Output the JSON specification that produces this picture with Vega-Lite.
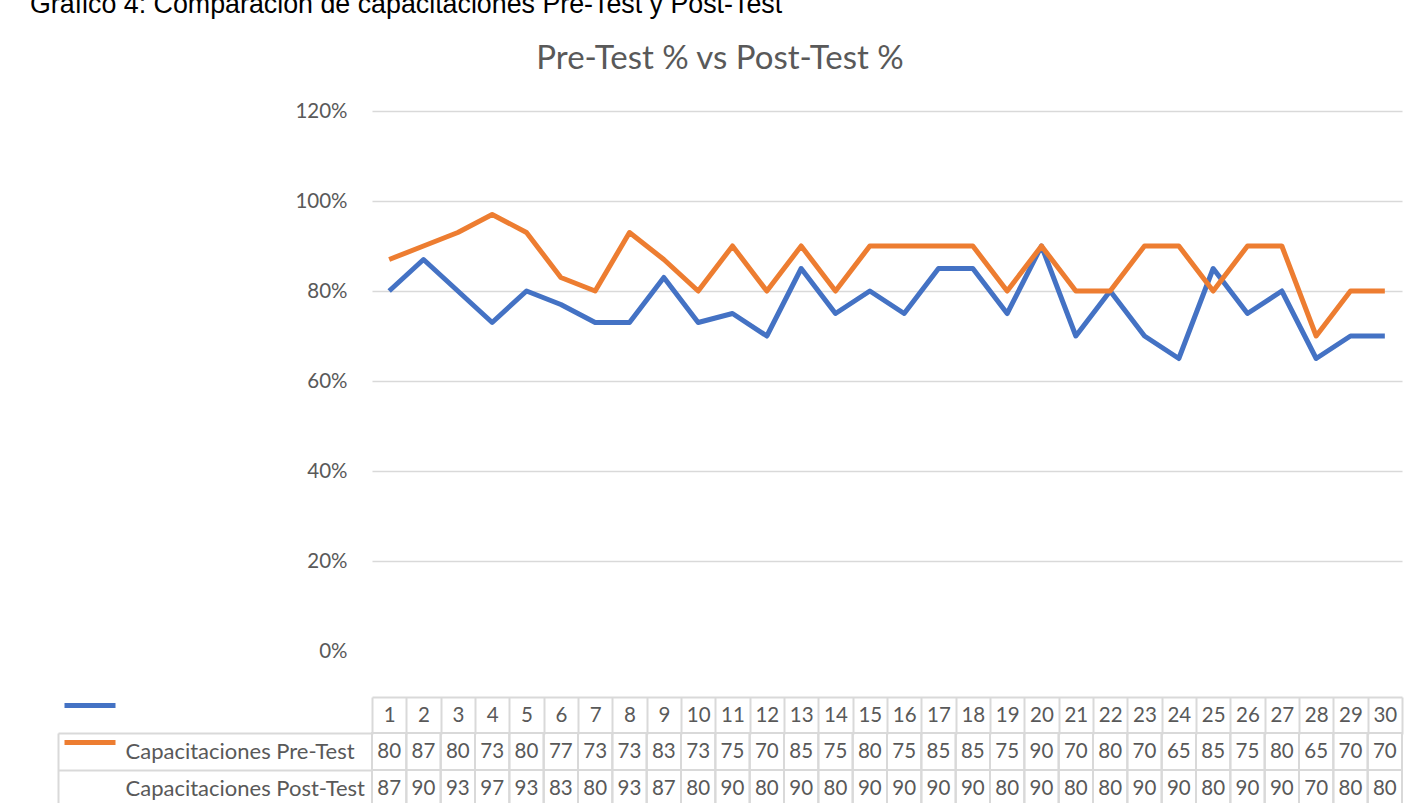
{
  "$schema": "https://vega.github.io/schema/vega-lite/v6.json",
  "background": "white",
  "padding": {"left": 30, "top": -8, "right": 16, "bottom": -5},
  "config": {"view": {"stroke": null}, "font": "Lato"},
  "title": {
    "text": "Gráfico 4: Comparación de capacitaciones Pre-Test y Post-Test",
    "anchor": "start",
    "font": "Liberation Sans",
    "fontSize": 26.8,
    "fontWeight": "normal",
    "color": "#000000",
    "dx": -27,
    "offset": 24
  },
  "datasets": {
    "scores": [
      {"index": 1, "series": "Capacitaciones Pre-Test", "value": 80},
      {"index": 2, "series": "Capacitaciones Pre-Test", "value": 87},
      {"index": 3, "series": "Capacitaciones Pre-Test", "value": 80},
      {"index": 4, "series": "Capacitaciones Pre-Test", "value": 73},
      {"index": 5, "series": "Capacitaciones Pre-Test", "value": 80},
      {"index": 6, "series": "Capacitaciones Pre-Test", "value": 77},
      {"index": 7, "series": "Capacitaciones Pre-Test", "value": 73},
      {"index": 8, "series": "Capacitaciones Pre-Test", "value": 73},
      {"index": 9, "series": "Capacitaciones Pre-Test", "value": 83},
      {"index": 10, "series": "Capacitaciones Pre-Test", "value": 73},
      {"index": 11, "series": "Capacitaciones Pre-Test", "value": 75},
      {"index": 12, "series": "Capacitaciones Pre-Test", "value": 70},
      {"index": 13, "series": "Capacitaciones Pre-Test", "value": 85},
      {"index": 14, "series": "Capacitaciones Pre-Test", "value": 75},
      {"index": 15, "series": "Capacitaciones Pre-Test", "value": 80},
      {"index": 16, "series": "Capacitaciones Pre-Test", "value": 75},
      {"index": 17, "series": "Capacitaciones Pre-Test", "value": 85},
      {"index": 18, "series": "Capacitaciones Pre-Test", "value": 85},
      {"index": 19, "series": "Capacitaciones Pre-Test", "value": 75},
      {"index": 20, "series": "Capacitaciones Pre-Test", "value": 90},
      {"index": 21, "series": "Capacitaciones Pre-Test", "value": 70},
      {"index": 22, "series": "Capacitaciones Pre-Test", "value": 80},
      {"index": 23, "series": "Capacitaciones Pre-Test", "value": 70},
      {"index": 24, "series": "Capacitaciones Pre-Test", "value": 65},
      {"index": 25, "series": "Capacitaciones Pre-Test", "value": 85},
      {"index": 26, "series": "Capacitaciones Pre-Test", "value": 75},
      {"index": 27, "series": "Capacitaciones Pre-Test", "value": 80},
      {"index": 28, "series": "Capacitaciones Pre-Test", "value": 65},
      {"index": 29, "series": "Capacitaciones Pre-Test", "value": 70},
      {"index": 30, "series": "Capacitaciones Pre-Test", "value": 70},
      {"index": 1, "series": "Capacitaciones Post-Test", "value": 87},
      {"index": 2, "series": "Capacitaciones Post-Test", "value": 90},
      {"index": 3, "series": "Capacitaciones Post-Test", "value": 93},
      {"index": 4, "series": "Capacitaciones Post-Test", "value": 97},
      {"index": 5, "series": "Capacitaciones Post-Test", "value": 93},
      {"index": 6, "series": "Capacitaciones Post-Test", "value": 83},
      {"index": 7, "series": "Capacitaciones Post-Test", "value": 80},
      {"index": 8, "series": "Capacitaciones Post-Test", "value": 93},
      {"index": 9, "series": "Capacitaciones Post-Test", "value": 87},
      {"index": 10, "series": "Capacitaciones Post-Test", "value": 80},
      {"index": 11, "series": "Capacitaciones Post-Test", "value": 90},
      {"index": 12, "series": "Capacitaciones Post-Test", "value": 80},
      {"index": 13, "series": "Capacitaciones Post-Test", "value": 90},
      {"index": 14, "series": "Capacitaciones Post-Test", "value": 80},
      {"index": 15, "series": "Capacitaciones Post-Test", "value": 90},
      {"index": 16, "series": "Capacitaciones Post-Test", "value": 90},
      {"index": 17, "series": "Capacitaciones Post-Test", "value": 90},
      {"index": 18, "series": "Capacitaciones Post-Test", "value": 90},
      {"index": 19, "series": "Capacitaciones Post-Test", "value": 80},
      {"index": 20, "series": "Capacitaciones Post-Test", "value": 90},
      {"index": 21, "series": "Capacitaciones Post-Test", "value": 80},
      {"index": 22, "series": "Capacitaciones Post-Test", "value": 80},
      {"index": 23, "series": "Capacitaciones Post-Test", "value": 90},
      {"index": 24, "series": "Capacitaciones Post-Test", "value": 90},
      {"index": 25, "series": "Capacitaciones Post-Test", "value": 80},
      {"index": 26, "series": "Capacitaciones Post-Test", "value": 90},
      {"index": 27, "series": "Capacitaciones Post-Test", "value": 90},
      {"index": 28, "series": "Capacitaciones Post-Test", "value": 70},
      {"index": 29, "series": "Capacitaciones Post-Test", "value": 80},
      {"index": 30, "series": "Capacitaciones Post-Test", "value": 80}
    ]
  },
  "bounds": "flush",
  "spacing": 82,
  "vconcat": [
    {
      "width": 1030,
      "height": 540,
      "data": {"name": "scores"},
      "title": {
        "text": "Pre-Test % vs Post-Test %",
        "font": "Lato",
        "fontSize": 33,
        "fontWeight": "normal",
        "color": "#595959",
        "anchor": "middle",
        "dx": -167,
        "offset": 25
      },
      "mark": {"type": "line", "strokeWidth": 5, "strokeJoin": "round"},
      "encoding": {
        "x": {
          "field": "index",
          "type": "ordinal",
          "bandPosition": 0.5,
          "scale": {"type": "band", "paddingInner": 0, "paddingOuter": 0},
          "axis": {
            "orient": "bottom",
            "offset": 46,
            "title": null,
            "labelAngle": 0,
            "labelFont": "Lato",
            "labelFontSize": 20.5,
            "labelColor": "#595959",
            "labelBaseline": "middle",
            "labelPadding": -19,
            "tickBand": "extent",
            "tickSize": 37,
            "tickColor": "#d9d9d9",
            "tickWidth": 2,
            "domainColor": "#d9d9d9",
            "domainWidth": 2,
            "grid": false
          }
        },
        "y": {
          "field": "value",
          "type": "quantitative",
          "scale": {"domain": [0, 120], "nice": false},
          "axis": {
            "values": [0, 20, 40, 60, 80, 100, 120],
            "labelExpr": "datum.value + '%'",
            "title": null,
            "ticks": false,
            "domain": false,
            "labelPadding": 25,
            "labelFont": "Lato",
            "labelFontSize": 20.5,
            "labelColor": "#595959",
            "gridColor": {"condition": {"test": "datum.value === 0", "value": "transparent"}, "value": "#d9d9d9"},
            "gridWidth": 1.5
          }
        },
        "color": {
          "field": "series",
          "type": "nominal",
          "scale": {"domain": ["Capacitaciones Pre-Test", "Capacitaciones Post-Test"], "range": ["#4472C4", "#ED7D31"]},
          "legend": null
        }
      }
    },
    {
      "width": 1030,
      "height": 74,
      "data": {"name": "scores"},
      "layer": [
        {
          "mark": {"type": "rect", "fillOpacity": 0, "stroke": "#d9d9d9", "strokeWidth": 2},
          "encoding": {
            "x": {"field": "index", "type": "ordinal", "scale": {"type": "band", "paddingInner": 0, "paddingOuter": 0}, "axis": null},
            "y": {
              "field": "series",
              "type": "nominal",
              "scale": {"domain": ["Capacitaciones Pre-Test", "Capacitaciones Post-Test"], "paddingInner": 0, "paddingOuter": 0},
              "axis": {"orient": "left", "offset": 314, "ticks": false, "labels": false, "domain": true, "domainColor": "#d9d9d9", "domainWidth": 2, "title": null}
            }
          }
        },
        {
          "mark": {"type": "text", "font": "Lato", "fontSize": 20.5, "color": "#595959"},
          "encoding": {
            "x": {"field": "index", "type": "ordinal", "bandPosition": 0.5},
            "y": {
              "field": "series",
              "type": "nominal",
              "bandPosition": 0.5,
              "axis": {
                "orient": "left",
                "title": null,
                "domain": false,
                "tickBand": "extent",
                "tickSize": 314,
                "tickColor": "#d9d9d9",
                "tickWidth": 2,
                "labelAlign": "left",
                "labelBaseline": "middle",
                "labelPadding": -67,
                "labelFont": "Lato",
                "labelFontSize": 22,
                "labelColor": "#595959",
                "labelLimit": 400
              }
            },
            "text": {"field": "value", "type": "quantitative"}
          }
        },
        {
          "mark": {"type": "text", "text": ""},
          "encoding": {
            "x": {"field": "index", "type": "ordinal", "bandPosition": 0.5},
            "y": {
              "field": "series",
              "type": "nominal",
              "axis": {
                "orient": "left",
                "offset": 257,
                "title": null,
                "domain": false,
                "labels": false,
                "bandPosition": 0,
                "tickOffset": -28,
                "tickSize": 51,
                "tickWidth": 5,
                "tickColor": {"condition": {"test": "datum.value === 'Capacitaciones Pre-Test'", "value": "#4472C4"}, "value": "#ED7D31"}
              }
            }
          }
        }
      ],
      "resolve": {"axis": {"y": "independent"}}
    }
  ]
}
